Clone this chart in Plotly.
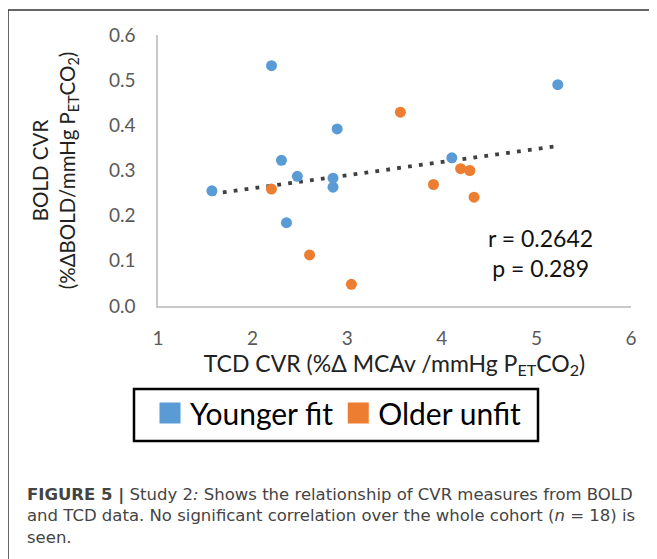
import numpy as np
import plotly.graph_objects as go

# ---- data ----
young_x = [1.57, 2.20, 2.305, 2.473, 2.358, 2.85, 2.85, 2.894, 4.106, 5.226]
young_y = [0.255, 0.532, 0.3225, 0.287, 0.1845, 0.283, 0.263, 0.392, 0.328, 0.490]
old_x = [2.199, 2.602, 3.044, 3.562, 3.912, 4.199, 4.296, 4.341]
old_y = [0.259, 0.113, 0.048, 0.429, 0.269, 0.304, 0.300, 0.241]
series_names = ["Younger fit", "Older unfit"]
x_ticks = [1, 2, 3, 4, 5, 6]
y_ticks = [0.0, 0.1, 0.2, 0.3, 0.4, 0.5, 0.6]
stats_text = "r = 0.2642<br>p = 0.289"
caption = ("<b>FIGURE 5 |</b> Study 2<i>:</i> Shows the relationship of CVR measures from BOLD<br>"
           "and TCD data. No significant correlation over the whole cohort (<i>n</i> = 18) is<br>"
           "seen.")

BLUE = "#5B9BD5"
ORANGE = "#ED7D31"

# page body adds an 8px margin; lay out in screen pixels and shift
OFF = 8
W, H = 657 - OFF, 559 - OFF
SL, SR, ST, SB = 158, 631, 35, 306   # plot area in screen pixels
L, R, T, B = SL - OFF, SR - OFF, ST - OFF, SB - OFF


def px(xs):
    return (xs - SL) / (SR - SL)


def py(ys):
    return (SB - ys) / (SB - ST)


all_x = np.array(young_x + old_x)
all_y = np.array(young_y + old_y)
slope, intercept = np.polyfit(all_x, all_y, 1)
tx = np.array([all_x.min(), all_x.max()])
ty = slope * tx + intercept

fig = go.Figure()
fig.add_trace(go.Scatter(x=tx, y=ty, mode="lines", showlegend=False,
                         line=dict(color="#404040", width=3.8, dash="3.8px,7.2px"),
                         hoverinfo="skip"))
fig.add_trace(go.Scatter(x=young_x, y=young_y, mode="markers", showlegend=False,
                         marker=dict(color=BLUE, size=11), name=series_names[0]))
fig.add_trace(go.Scatter(x=old_x, y=old_y, mode="markers", showlegend=False,
                         marker=dict(color=ORANGE, size=11), name=series_names[1]))
# legend entries (square swatches)
for nm, col in zip(series_names, [BLUE, ORANGE]):
    fig.add_trace(go.Scatter(x=[None], y=[None], mode="markers", name=nm,
                             marker=dict(symbol="square", color=col, size=16,
                                         line=dict(color=col, width=5))))

fig.add_annotation(x=5.04, y=0.118, xref="x", yref="y", text=stats_text,
                   showarrow=False, font=dict(family="Lato", size=23, color="#111111"),
                   align="center")

fig.add_annotation(x=px(25), y=py(483), xref="paper", yref="paper", xanchor="left",
                   yanchor="top", text=caption, showarrow=False, align="left",
                   font=dict(family="DejaVu Sans", size=16.5, color="#444444"))

# outer frame (top and left edges visible)
fig.add_shape(type="line", xref="paper", yref="paper", x0=px(8), x1=px(720), y0=py(10), y1=py(10),
              line=dict(color="#333333", width=1.5))
fig.add_shape(type="line", xref="paper", yref="paper", x0=px(8), x1=px(8), y0=py(10), y1=py(620),
              line=dict(color="#333333", width=1.5))
# legend box
fig.add_shape(type="rect", xref="paper", yref="paper", x0=px(134), x1=px(538), y0=py(389), y1=py(441),
              line=dict(color="black", width=2.5), fillcolor="rgba(0,0,0,0)")

fig.update_layout(
    width=W, height=H,
    margin=dict(l=L, r=W - R, t=T, b=H - B, autoexpand=False),
    paper_bgcolor="white", plot_bgcolor="white",
    font=dict(family="Lato", color="#595959"),
    showlegend=True,
    legend=dict(orientation="h", x=px(150), y=py(387), xanchor="left", yanchor="top",
                borderwidth=0, bgcolor="rgba(0,0,0,0)",
                font=dict(family="Lato", size=30, color="black"), itemwidth=30),
)
fig.update_xaxes(range=[1, 6], tickvals=x_ticks, showgrid=False, zeroline=False,
                 showline=True, linecolor="#C8C8C8", linewidth=1.5, ticks="",
                 automargin=False,
                 tickfont=dict(size=19, color="#595959"), ticklabelstandoff=14,
                 title=dict(text="TCD CVR (%Δ MCAv /mmHg P<sub>ET</sub>CO<sub>2</sub>)",
                            font=dict(size=23, color="#222222"), standoff=0))
fig.update_yaxes(range=[0, 0.6], tickvals=y_ticks, tickformat=".1f", showgrid=False,
                 zeroline=False, showline=True, linecolor="#C8C8C8", linewidth=1.5, ticks="",
                 automargin=False,
                 tickfont=dict(size=19, color="#595959"), ticklabelstandoff=17,
                 title=dict(text="BOLD CVR<br>(%ΔBOLD/mmHg P<sub>ET</sub>CO<sub>2</sub>)",
                            font=dict(size=20.5, color="#222222"), standoff=28))

fig.write_html("out.html")
